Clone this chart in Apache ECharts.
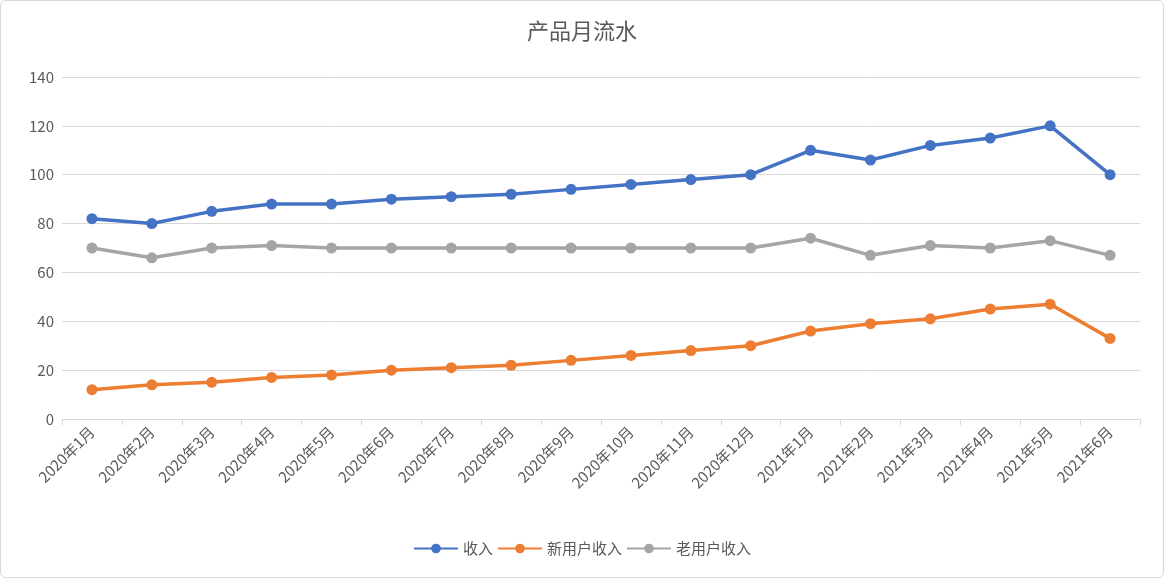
<!DOCTYPE html>
<html><head><meta charset="utf-8">
<script src="https://cdn.jsdelivr.net/npm/echarts@6/dist/echarts.min.js"></script>
<style>html,body{margin:0;padding:0;background:#fff}#c{width:1162px;height:576px;border:1px solid #d9d9d9;border-radius:6px}</style>
</head><body><div id="c"></div>
<script>
const categories=['2020年1月','2020年2月','2020年3月','2020年4月','2020年5月','2020年6月','2020年7月','2020年8月','2020年9月','2020年10月','2020年11月','2020年12月','2021年1月','2021年2月','2021年3月','2021年4月','2021年5月','2021年6月'];
const income=[82,80,85,88,88,90,91,92,94,96,98,100,110,106,112,115,120,100];
const newUser=[12,14,15,17,18,20,21,22,24,26,28,30,36,39,41,45,47,33];
const oldUser=[70,66,70,71,70,70,70,70,70,70,70,70,74,67,71,70,73,67];
const mk=(name,data,color)=>({name,type:'line',data,color,symbol:'circle',symbolSize:11,lineStyle:{width:3.5,color},itemStyle:{color}});
const ch=echarts.init(document.getElementById('c'));
ch.setOption({
 textStyle:{fontFamily:'Noto Sans CJK SC'},
 title:{text:'产品月流水',left:'center',top:14,textStyle:{fontSize:22,fontWeight:'normal',color:'#595959'}},
 legend:{bottom:16,itemWidth:44,itemHeight:12,itemGap:4,textStyle:{fontSize:15,color:'#595959'},data:['收入','新用户收入','老用户收入']},
 grid:{left:61,right:23,top:76,bottom:158},
 xAxis:{type:'category',data:categories,boundaryGap:true,axisLine:{lineStyle:{color:'#d9d9d9'}},axisTick:{show:true,length:6,lineStyle:{color:'#d9d9d9'}},axisLabel:{rotate:45,fontSize:15,margin:10,color:'#595959',interval:0}},
 yAxis:{type:'value',min:0,max:140,interval:20,axisLine:{show:false},axisTick:{show:false},splitLine:{lineStyle:{color:'#d9d9d9'}},axisLabel:{fontSize:15,color:'#595959'}},
 series:[mk('收入',income,'#4472c4'),mk('新用户收入',newUser,'#ed7d31'),mk('老用户收入',oldUser,'#a5a5a5')]
});
</script></body></html>
